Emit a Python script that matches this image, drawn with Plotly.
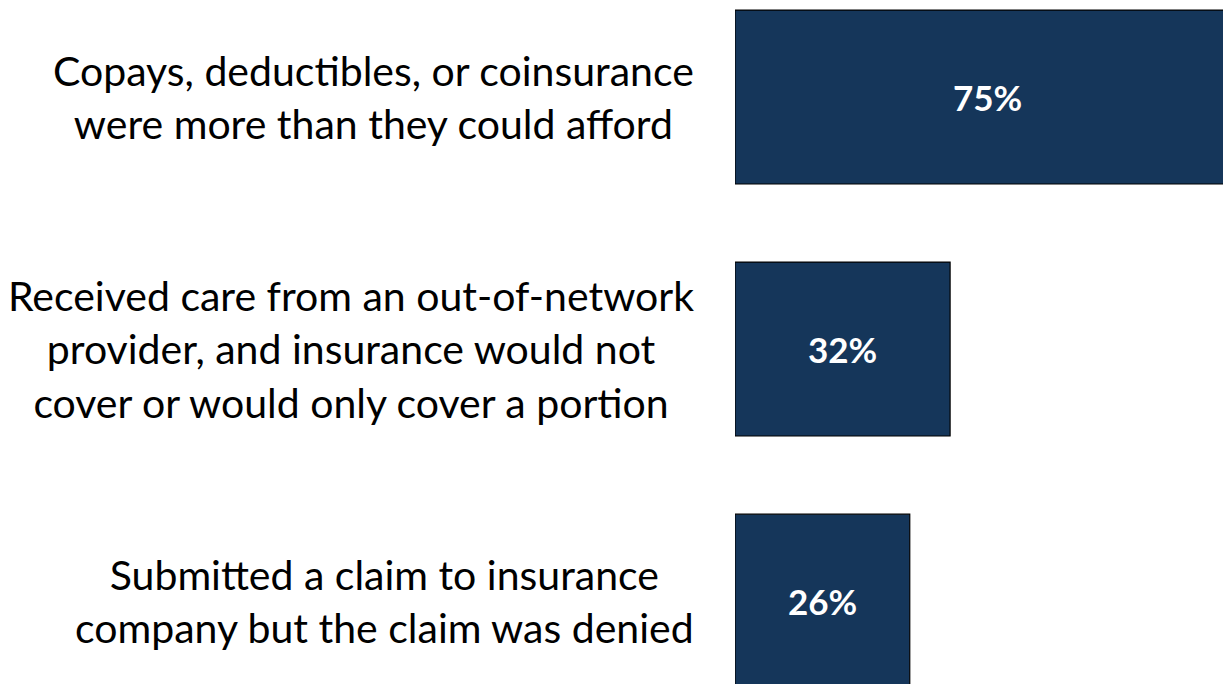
import plotly.graph_objects as go

# Reasons for medical bill problems (share of respondents, %)
reasons = [
    "Copays, deductibles, or coinsurance<br>were more than they could afford",
    "Received care from an out-of-network<br>provider, and insurance would not<br>cover or would only cover a portion",
    "Submitted a claim to insurance<br>company but the claim was denied",
]
values = [75, 32, 26]
value_labels = ["75%", "32%", "26%"]

BAR_COLOR = "#15365a"
LABEL_FONT = "Lato, Carlito, Calibri, sans-serif"

positions = list(range(len(reasons)))

fig = go.Figure(
    go.Bar(
        x=values,
        y=positions,
        orientation="h",
        width=0.69,
        marker=dict(color=BAR_COLOR, line=dict(color="#000000", width=1.2)),
        hoverinfo="skip",
    )
)

# Value labels centered in each bar
for p, v, t in zip(positions, values, value_labels):
    fig.add_annotation(
        x=v / 2, y=p, xref="x", yref="y", text=t, showarrow=False,
        font=dict(family=LABEL_FONT, size=35, color="white", weight="bold"),
    )

# Category labels to the left of the bars
for p, r in zip(positions, reasons):
    fig.add_annotation(
        x=0, y=p, xref="paper", yref="y", text=r, showarrow=False,
        xanchor="right", yanchor="middle", align="center", xshift=-39,
        font=dict(family=LABEL_FONT, size=41, color="#000000"),
    )

fig.update_layout(
    width=1223, height=684,
    margin=dict(l=735, r=0, t=0, b=0),
    paper_bgcolor="white", plot_bgcolor="white",
    showlegend=False,
    xaxis=dict(range=[0, 72.6], visible=False, fixedrange=True),
    yaxis=dict(range=[2.329, -0.385], visible=False, fixedrange=True),
)

fig.write_html("out.html", config={"displayModeBar": False})
